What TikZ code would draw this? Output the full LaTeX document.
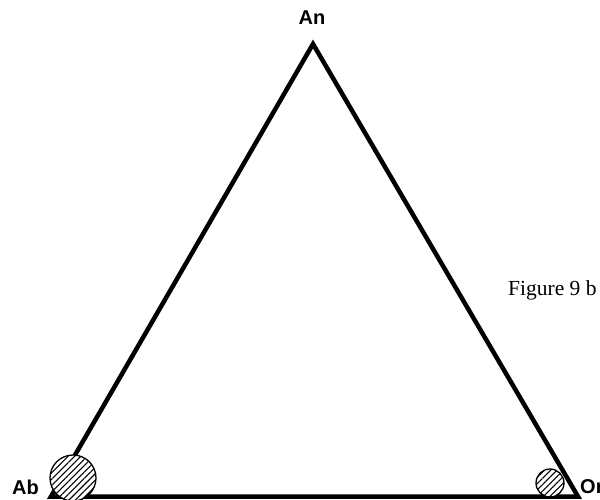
\documentclass[tikz,border=0pt]{standalone}
\usepackage{fontspec}
\setmainfont{Liberation Serif}
\newfontfamily\lblfont{Liberation Sans}
\usetikzlibrary{patterns.meta}
\begin{document}
\begin{tikzpicture}[x=1pt,y=1pt,
  side/.style={line width=4.5pt, line join=miter, line cap=round},
  vlabel/.style={font=\lblfont\bfseries\fontsize{20}{20}\selectfont, inner sep=0pt},
  blob/.style={draw=black, line width=1.3pt, fill=white,
    postaction={pattern={Lines[angle=45, distance=4.5pt, line width=1.1pt]}}}]
\useasboundingbox (0,0) rectangle (600,499);
\coordinate (an) at (313,455);
\coordinate (ab) at (51,2.5);
\coordinate (or) at (578,2.5);
\draw[side] (an) -- (ab) -- (or) -- cycle;
\node[blob, circle, minimum size=46pt, inner sep=0pt] (cab) at (73,21) {};
\node[blob, circle, minimum size=28pt, inner sep=0pt] (cor) at (550,16) {};
\node[vlabel] (lan) at (312,481) {An};
\node[vlabel, anchor=east] (lab) at (39,12) {Ab};
\node[vlabel, anchor=west] (lor) at (580,12) {Or};
\node[font=\fontsize{21.5}{21.5}\selectfont, inner sep=0pt, anchor=west] (fig) at (508,209) {Figure 9 b};
\end{tikzpicture}
\end{document}
